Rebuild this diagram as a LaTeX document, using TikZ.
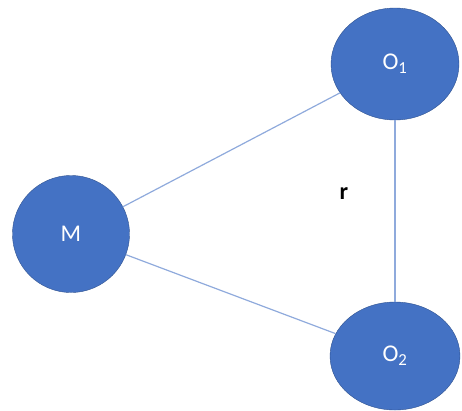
\documentclass[tikz,border=0pt]{standalone}
\usepackage{fontspec}
\setmainfont{Carlito}
\usetikzlibrary{shapes.geometric, positioning}
\definecolor{nodeblue}{HTML}{4472C4}
\definecolor{nodeedge}{HTML}{2F528F}
\definecolor{linkblue}{HTML}{8FAADC}

\begin{document}
\begin{tikzpicture}[
    x=1pt, y=-1pt,
    body/.style={ellipse, draw=nodeedge, fill=nodeblue, text=white, font=\fontsize{24}{28}\selectfont, inner sep=0pt},
    link/.style={color=linkblue, line width=1.2pt}
]
\useasboundingbox (0,0) rectangle (462,410);

% Bodies
\node[body, circle, minimum size=117pt] (m) at (71,234) {M};
\node[body, ellipse, minimum width=128pt, minimum height=112pt] (o1) at (395,64) {O\textsubscript{1}};
\node[body, ellipse, minimum width=130pt, minimum height=108pt] (o2) at (395,356) {O\textsubscript{2}};

% Links
\draw[link] (m) -- (o1);
\draw[link] (m) -- (o2);
\draw[link] (o1) -- (o2);

% Distance label
\node[font=\fontsize{24}{28}\selectfont\bfseries] (r) at (344,194) {r};

\end{tikzpicture}
\end{document}
